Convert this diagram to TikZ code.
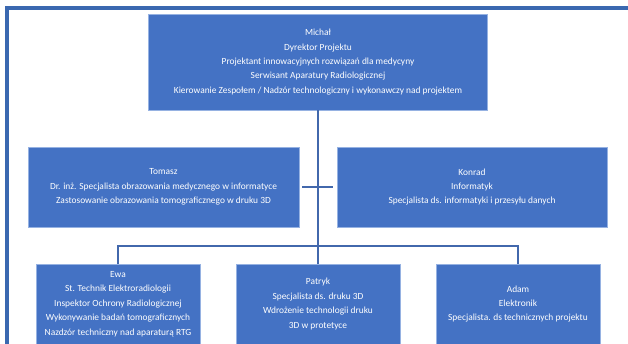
\documentclass[tikz,border=0pt]{standalone}
\usepackage{fontspec}
\setmainfont{Carlito}
\definecolor{boxblue}{RGB}{68,114,196}
\definecolor{lineblue}{RGB}{66,104,172}
\definecolor{frameblue}{RGB}{58,104,176}
\definecolor{edgeblue}{RGB}{150,178,226}
\begin{document}
\begin{tikzpicture}[x=1pt, y=-1pt,
    person/.style={draw=edgeblue, line width=0.6pt, fill=boxblue, text=white,
      align=center, inner sep=0pt, font=\fontsize{9.4}{14.4}\selectfont},
    link/.style={draw=lineblue, line width=1.6pt}]
   \useasboundingbox (0,0) rectangle (628,344);
   \draw[frameblue, line width=4pt] (7,360) -- (7,8) -- (640,8);
   \node[person, minimum width=339pt, minimum height=96pt] (michal) at (318,62)
     {Michał\\Dyrektor Projektu\\Projektant innowacyjnych rozwiązań dla medycyny\\Serwisant Aparatury Radiologicznej\\Kierowanie Zespołem / Nadzór technologiczny i wykonawczy nad projektem};
   \node[person, minimum width=271pt, minimum height=80pt] (tomasz) at (163.5,187)
     {Tomasz\\Dr. inż. Specjalista obrazowania medycznego w informatyce\\Zastosowanie obrazowania tomograficznego w druku 3D};
   \node[person, minimum width=270pt, minimum height=80pt] (konrad) at (472,187)
     {Konrad\\Informatyk\\Specjalista ds. informatyki i przesyłu danych};
   \node[person, minimum width=164pt, minimum height=80pt] (ewa) at (118,304)
     {Ewa\\St. Technik Elektroradiologii\\Inspektor Ochrony Radiologicznej\\Wykonywanie badań tomograficznych\\Nazdzór techniczny nad aparaturą RTG};
   \node[person, minimum width=164pt, minimum height=80pt] (patryk) at (318,304)
     {Patryk\\Specjalista ds. druku 3D\\Wdrożenie technologii druku\\3D w protetyce};
   \node[person, minimum width=164pt, minimum height=80pt] (adam) at (518,304)
     {Adam\\Elektronik\\Specjalista. ds technicznych projektu};
   \coordinate (bus) at (318,246);
   \draw[link] (michal.south) -- (patryk.north);
   \draw[link] (ewa.north) |- (bus) -| (adam.north);
   \draw[link, shorten <=3pt, shorten >=4pt] (tomasz.east) -- (konrad.west);
\end{tikzpicture}
\end{document}
